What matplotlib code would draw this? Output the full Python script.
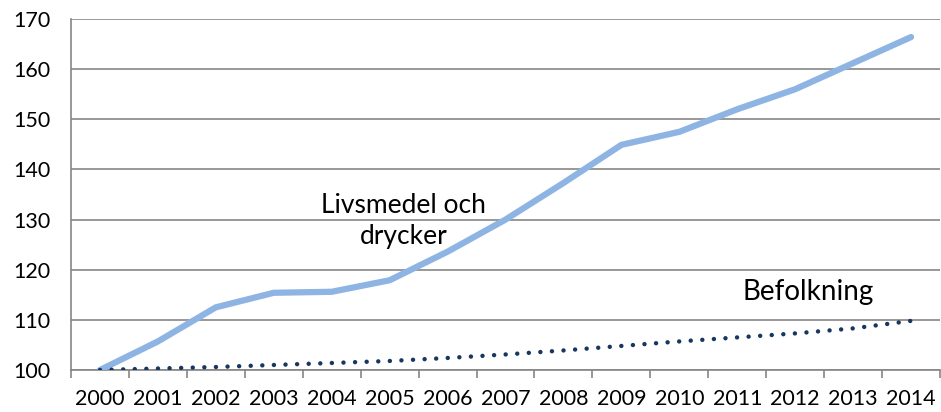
import matplotlib
matplotlib.use('Agg')
import matplotlib.pyplot as plt
import numpy as np

# index, 2000 = 100
years = [str(y) for y in range(2000, 2015)]
livsmedel = [100, 105.7, 112.5, 115.4, 115.6, 117.9, 123.6, 130.0, 137.3,
             144.9, 147.5, 152.0, 156.0, 161.2, 166.4]
befolkning = [100, 100.3, 100.6, 101.0, 101.4, 101.8, 102.4, 103.1, 103.9,
              104.8, 105.7, 106.5, 107.3, 108.3, 109.8]

plt.rcParams['font.family'] = ['Lato', 'DejaVu Sans']

fig = plt.figure(figsize=(9.41, 4.12), dpi=100)
ax = fig.add_axes([71 / 941, 1 - 370 / 412, 1 - 71 / 941 - 0.001, (370 - 19) / 412])

x = np.arange(len(years))
ax.plot(x, livsmedel, color='#8EB4E3', lw=4.5, solid_capstyle='round', zorder=3)
ax.plot(x, befolkning, color='#17375E', lw=3.2, linestyle=(0, (0.01, 2.6)),
        dash_capstyle='round', zorder=3)

ax.set_xlim(-0.5, len(years) - 0.5)
ax.set_ylim(100, 170)
ax.set_yticks(range(100, 171, 10))
ax.set_xticks(x)
ax.set_xticklabels(years)
ax.set_xticks(np.arange(-0.5, len(years), 1), minor=True)
ax.tick_params(axis='x', which='major', length=0, pad=14, labelsize=15.5)
ax.tick_params(axis='x', which='minor', length=6, color='#868686', width=1.2)
ax.tick_params(axis='y', length=0, pad=15, labelsize=15.5)

ax.grid(axis='y', color='#868686', lw=1.2)
ax.set_axisbelow(True)
for s in ['top', 'right']:
    ax.spines[s].set_visible(False)
for s in ['left', 'bottom']:
    ax.spines[s].set_color('#868686')
    ax.spines[s].set_linewidth(1.2)

ax.text(5.24, 129.8, 'Livsmedel och\ndrycker', ha='center', va='center',
        fontsize=19, linespacing=1.3)
ax.text(12.22, 115.6, 'Befolkning', ha='center', va='center', fontsize=20)

fig.savefig('out.png', dpi=100)
